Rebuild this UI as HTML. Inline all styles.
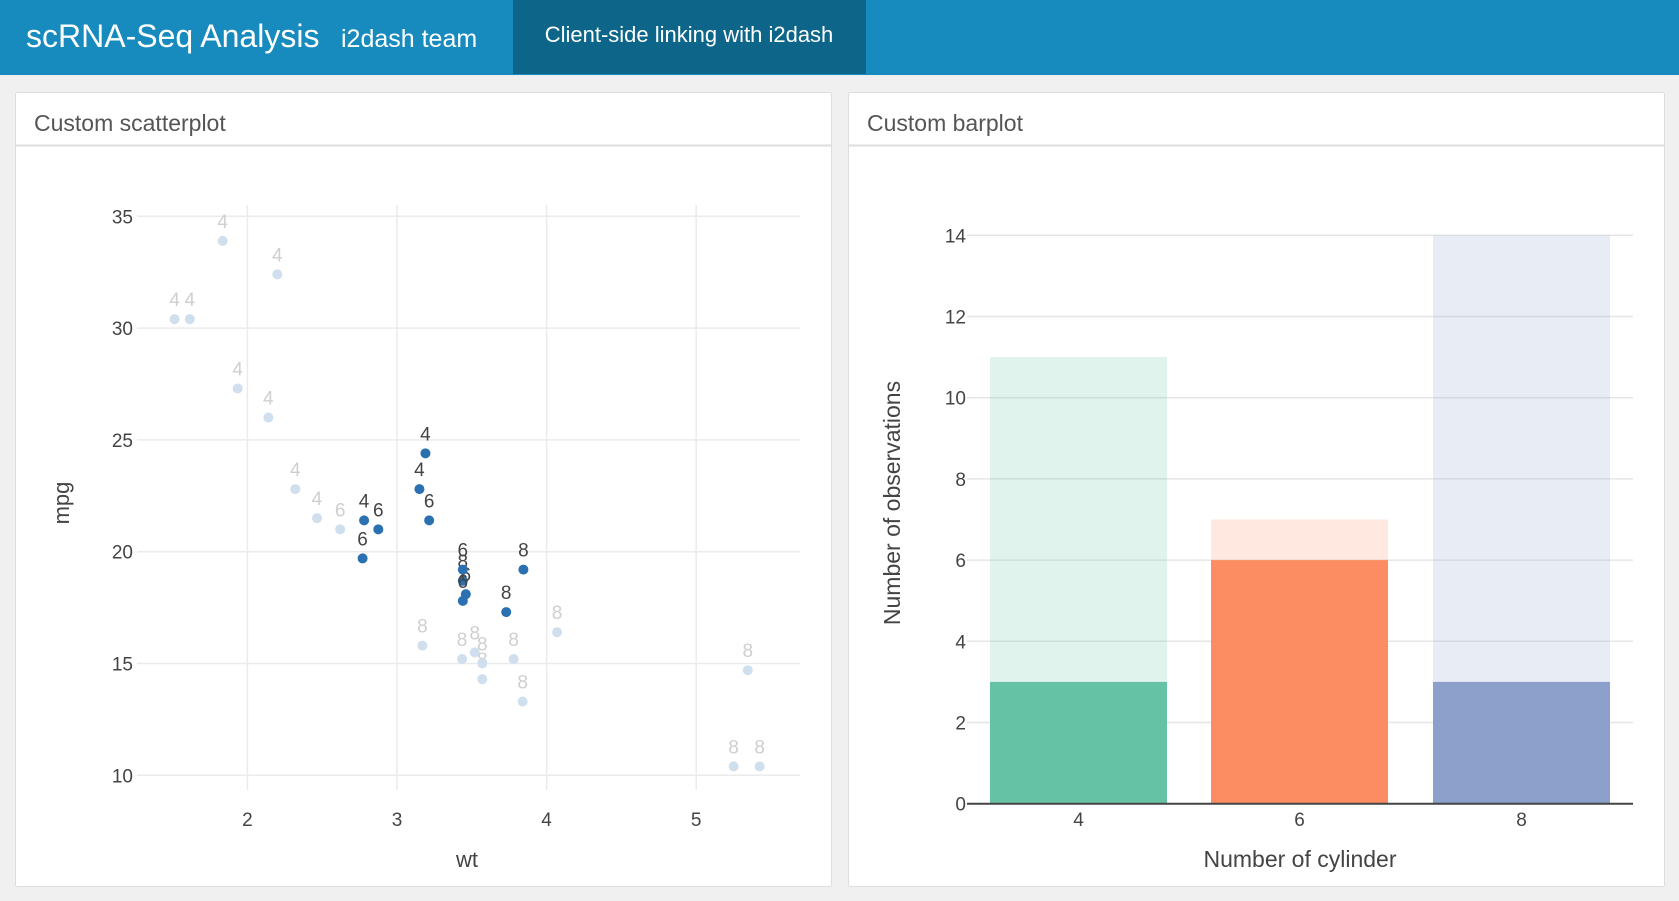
<!DOCTYPE html>
<html><head><meta charset="utf-8"><style>
body{margin:0;width:1679px;height:901px;background:#f0f0f0;font-family:"Liberation Sans",sans-serif;overflow:hidden}
svg{display:block}
</style></head><body>
<svg width="1679" height="901">
<rect x="0" y="0" width="1679" height="75" fill="#178bbe"/>
<text x="26" y="47" font-size="32" fill="#fff">scRNA-Seq Analysis</text>
<text x="341" y="47" font-size="25" fill="#fff">i2dash team</text>
<rect x="513" y="0" width="353" height="74" fill="#0d6689"/>
<text x="689" y="42" font-size="22" fill="#fff" text-anchor="middle">Client-side linking with i2dash</text>

<rect x="15.5" y="92.5" width="816" height="794" fill="#fff" stroke="#ddd" rx="2"/>
<line x1="16" y1="145.5" x2="831" y2="145.5" stroke="#ddd" stroke-width="2"/>
<text x="34" y="131" font-size="23" fill="#555">Custom scatterplot</text>

<rect x="848.5" y="92.5" width="816" height="794" fill="#fff" stroke="#ddd" rx="2"/>
<line x1="849" y1="145.5" x2="1664" y2="145.5" stroke="#ddd" stroke-width="2"/>
<text x="867" y="131" font-size="23" fill="#555">Custom barplot</text>

<g id="scatter"></g>
<g id="bars"></g>
</svg>
<script>
const wt=[2.620,2.875,2.320,3.215,3.440,3.460,3.570,3.190,3.150,3.440,3.440,4.070,3.730,3.780,5.250,5.424,5.345,2.200,1.615,1.835,2.465,3.520,3.435,3.840,3.845,1.935,2.140,1.513,3.170,2.770,3.570,2.780];
const mpg=[21.0,21.0,22.8,21.4,18.7,18.1,14.3,24.4,22.8,19.2,17.8,16.4,17.3,15.2,10.4,10.4,14.7,32.4,30.4,33.9,21.5,15.5,15.2,13.3,19.2,27.3,26.0,30.4,15.8,19.7,15.0,21.4];
const cyl=[6,6,4,6,8,6,8,4,4,6,6,8,8,8,8,8,8,4,4,4,4,8,8,8,8,4,4,4,8,6,8,4];
const selected=[0,1,0,1,1,1,0,1,1,1,1,0,1,0,0,0,0,0,0,0,0,0,0,0,1,0,0,0,0,1,0,1];
const xTicks=[2,3,4,5];
const yTicks=[10,15,20,25,30,35];
const barCats=["4","6","8"];
const barTotal=[11,7,14];
const barSel=[3,6,3];
const barTicks=[0,2,4,6,8,10,12,14];
const barColors=["#66c2a5","#fc8d62","#8da0cb"];
const NS="http://www.w3.org/2000/svg";
function mk(p,t,a,txt){const e=document.createElementNS(NS,t);for(const k in a)e.setAttribute(k,a[k]);if(txt!==undefined)e.textContent=txt;p.appendChild(e);return e;}
// scatter
const sx=v=>247.4+(v-2)*149.6, sy=v=>775.3-(v-10)*22.36;
const sg=document.getElementById('scatter');
xTicks.forEach(t=>{const l=mk(sg,'line',{x1:sx(t),x2:sx(t),y1:205,y2:790,stroke:'#ebebeb','stroke-width':1.5});

const tx=mk(sg,'text',{x:sx(t),y:826,'font-size':19,fill:'#444','text-anchor':'middle'},t);
});
yTicks.forEach(t=>{const l=mk(sg,'line',{x1:137,x2:800,y1:sy(t),y2:sy(t),stroke:'#ebebeb','stroke-width':1.5});

const tx=mk(sg,'text',{x:133,y:sy(t)+7,'font-size':19,fill:'#444','text-anchor':'end'},t);
});
const xt=mk(sg,'text',{x:467,y:867,'font-size':22,fill:'#444','text-anchor':'middle'},'wt');

const yt=mk(sg,'text',{x:0,y:0,'font-size':22,fill:'#444','text-anchor':'middle',transform:'translate(69,503) rotate(-90)'},'mpg');

[0,1].forEach(pass=>{wt.forEach((w,i)=>{if(selected[i]!==pass)return;
const c=mk(sg,'circle',{cx:sx(w),cy:sy(mpg[i]),r:5,fill:pass?'#2b70b1':'#cfdfed'});

const t=mk(sg,'text',{x:sx(w),y:sy(mpg[i])-13,'font-size':19,fill:pass?'#444':'#cfcfcf','text-anchor':'middle'},cyl[i]);
});});
// bars
const by=v=>803.7-v*40.6;
const bx=[990,1211,1433], bw=177;
const bg=document.getElementById('bars');
barTicks.forEach(t=>{if(t>0){const l=mk(bg,'line',{x1:967,x2:1633,y1:by(t),y2:by(t),stroke:'#e6e6e6','stroke-width':1.5});
}
const tx=mk(bg,'text',{x:966,y:by(t)+7,'font-size':19,fill:'#444','text-anchor':'end'},t);
});
barCats.forEach((c,i)=>{const r=mk(bg,'rect',{x:bx[i],y:by(barTotal[i]),width:bw,height:by(0)-by(barTotal[i]),fill:barColors[i],'fill-opacity':0.2});

const s=mk(bg,'rect',{x:bx[i],y:by(barSel[i]),width:bw,height:by(0)-by(barSel[i]),fill:barColors[i]});

const t=mk(bg,'text',{x:bx[i]+bw/2,y:826,'font-size':19,fill:'#444','text-anchor':'middle'},c);
});
const ax=mk(bg,'line',{x1:967,x2:1633,y1:by(0),y2:by(0),stroke:'#444','stroke-width':2});

const bxt=mk(bg,'text',{x:1300,y:867,'font-size':23,fill:'#444','text-anchor':'middle'},'Number of cylinder');

const byt=mk(bg,'text',{x:0,y:0,'font-size':23,fill:'#444','text-anchor':'middle',transform:'translate(900,503) rotate(-90)'},'Number of observations');

</script>
</body></html>
